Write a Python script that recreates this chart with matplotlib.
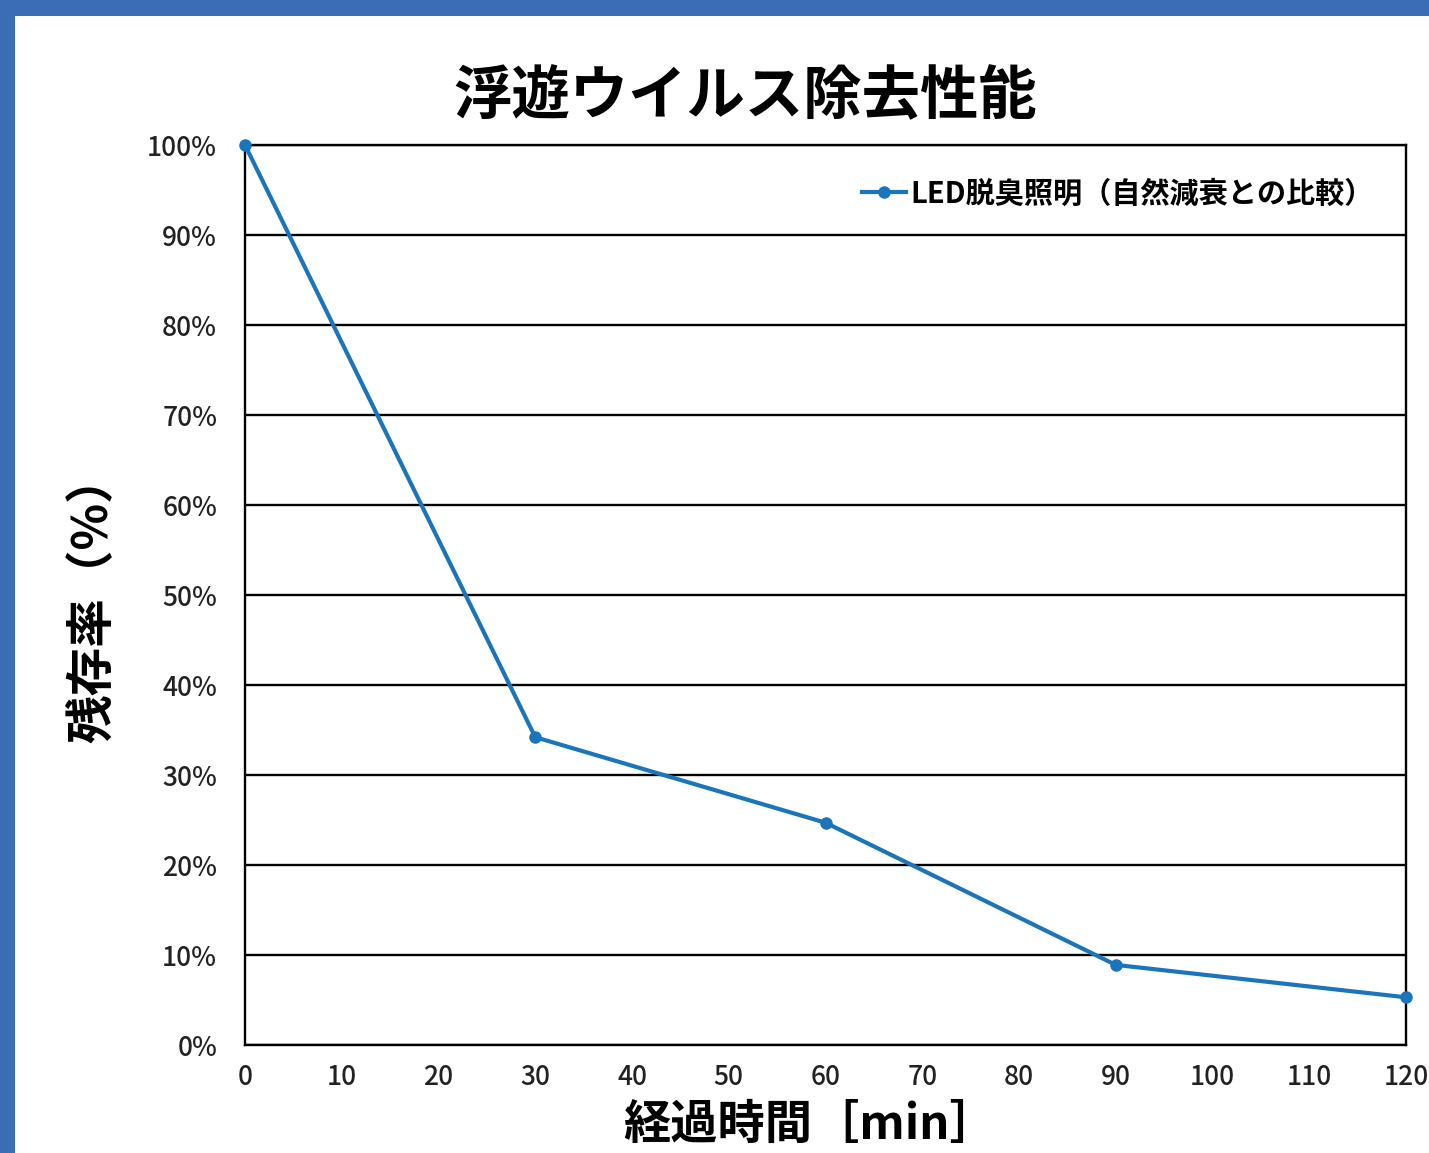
import matplotlib.pyplot as plt
from matplotlib.patches import Rectangle
from matplotlib.ticker import PercentFormatter

plt.rcParams['font.family'] = ['Noto Sans CJK JP', 'DejaVu Sans']

LINE_BLUE = "#1B75BC"
FRAME_BLUE = "#3A6DB5"

minutes = [0, 30, 60, 90, 120]
remaining = [100, 34.2, 24.7, 8.9, 5.3]
series_label = "LED脱臭照明（自然減衰との比較）"
x_ticks = list(range(0, 121, 10))
y_ticks = list(range(0, 101, 10))

W, H = 1429, 1153
fig = plt.figure(figsize=(W / 100, H / 100), dpi=100)
fig.patch.set_facecolor(FRAME_BLUE)
# white panel inside the blue frame (frame only at left and top)
fig.patches.append(Rectangle((15 / W, 0), 1 - 15 / W, 1 - 16 / H,
                             transform=fig.transFigure, facecolor="white",
                             edgecolor="none", zorder=-1))

ax = fig.add_axes([245 / W, 1 - 1045 / H, (1406 - 245) / W, (1045 - 145) / H])
ax.set_zorder(1)
ax.plot(minutes, remaining, color=LINE_BLUE, lw=3, marker="o", ms=8,
        label=series_label, clip_on=False, zorder=3)

ax.set_xlim(0, 120)
ax.set_ylim(0, 100)
ax.set_xticks(x_ticks)
ax.set_yticks(y_ticks)
ax.yaxis.set_major_formatter(PercentFormatter(decimals=0))
ax.tick_params(length=0, labelsize=19, colors="#222222")
ax.tick_params(axis="y", pad=20)
ax.tick_params(axis="x", pad=14)
for lbl in ax.get_xticklabels() + ax.get_yticklabels():
    lbl.set_fontweight("medium")

ax.grid(axis="y", color="black", lw=1.7)
for s in ax.spines.values():
    s.set_color("black")
    s.set_linewidth(1.7)

# title is centred on the figure panel, not on the axes
fig.text(745 / W, 1 - 97 / H, "浮遊ウイルス除去性能", fontsize=42,
         fontweight="bold", ha="center", va="center")
fig.text(92 / W, 1 - 598 / H, "残存率（%）", fontsize=35, fontweight="bold",
         rotation=90, ha="center", va="center")
fig.text(810 / W, 4 / H, "経過時間［min］", fontsize=34,
         fontweight="bold", ha="center", va="bottom")

leg = ax.legend(loc="upper right", bbox_to_anchor=(0.995, 0.992), frameon=False,
                fontsize=21, handlelength=1.5, handletextpad=0.15)
for t in leg.get_texts():
    t.set_fontweight("bold")

fig.savefig("out.png", dpi=100, facecolor=fig.get_facecolor())
